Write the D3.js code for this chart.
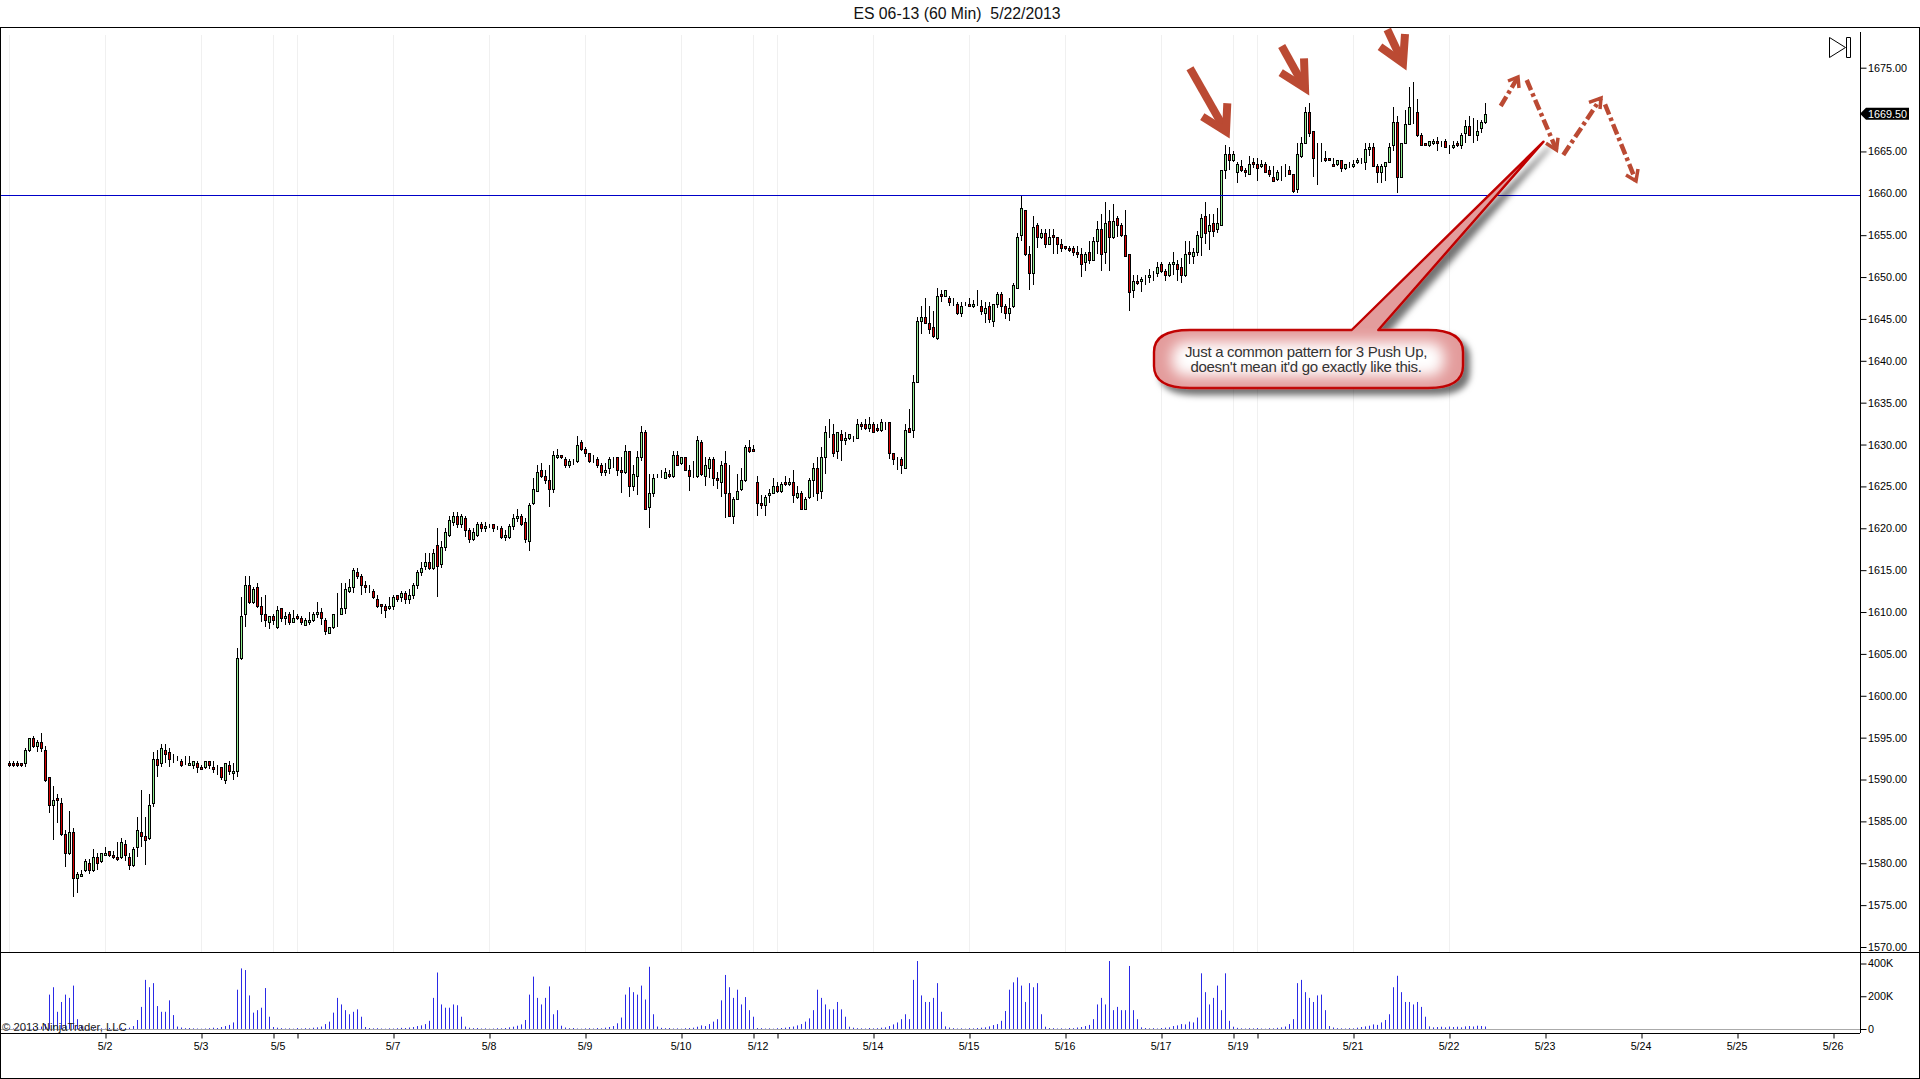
<!DOCTYPE html>
<html>
<head>
<meta charset="utf-8">
<script src="https://d3js.org/d3.v7.min.js"></script>
<style>
  html, body { margin: 0; padding: 0; background: #fff; }
  svg { display: block; }
  text { font-family: "Liberation Sans", Arial, sans-serif; }
</style>
</head>
<body>
<div id="chart"></div>
<script>
// 60 minute bars, one value per bar
const opens = [
  1592,1592,1592,1592,1592,1593.5,1595,1594,1594.5,1593.5,
  1590.25,1587,1587.75,1587.25,1583.5,1581.25,1583.75,1578.25,1578.5,1579.25,
  1580,1579.25,1580.75,1580.25,1581,1581.5,1581,1580.75,1580.75,1582.25,
  1580.75,1579.75,1582,1583.75,1583.25,1583,1587.25,1592.5,1592,1593.5,
  1593.25,1592.5,1592.5,1592.25,1592,1591.75,1591.75,1592,1591.5,1591.5,
  1592.25,1591.5,1591.25,1591.5,1590,1591.75,1590.75,1591,1604.5,1609.75,
  1613.25,1611.25,1613,1610.75,1609.75,1608.75,1609.5,1608.25,1610.5,1609.25,
  1609.75,1608.75,1609.5,1609.25,1608.5,1608.75,1609,1609.75,1610,1609,
  1607.5,1608.25,1609.75,1609.75,1610.5,1612.5,1613,1614.75,1614.25,1613.25,
  1612.75,1612.5,1611.5,1611,1610.75,1610.5,1610.75,1612,1611.75,1612.25,
  1611.5,1612,1613.25,1614.75,1615.5,1616,1615.25,1618,1615.75,1617.75,
  1619.25,1620.75,1621.5,1620.5,1621.25,1619.75,1618.75,1619.25,1620.5,1620,
  1620.25,1620.5,1620,1620,1619,1619,1620.25,1621.25,1621.5,1620.75,
  1618.5,1623,1624.5,1627,1626.25,1625.75,1624.75,1628.5,1628.75,1628.25,
  1627.5,1628,1628,1630.25,1629.5,1629,1628,1628.25,1627.5,1626.75,
  1627.25,1628.25,1628.5,1627,1626.75,1629.25,1625,1626.25,1628.5,1631.5,
  1622.5,1624.25,1626.25,1626,1626,1626.5,1626.25,1628.75,1627.75,1628.5,
  1627,1626.25,1626.25,1630.25,1626.25,1627.25,1628.25,1626,1625.5,1627.75,
  1624.25,1621.5,1623.5,1624.75,1625.75,1629.75,1629.5,1625.5,1623,1622.75,
  1624,1624.25,1625,1624.5,1625.5,1625.25,1625.5,1623.75,1624.25,1622.25,
  1623.75,1625.75,1627.25,1624.5,1628.5,1631.25,1631.25,1629.25,1631.25,1630.5,
  1630.75,1630.75,1630.75,1632.5,1632.5,1632,1632.5,1632,1631.75,1632.75,
  1632.75,1629,1628.25,1628.25,1627.25,1632,1631.75,1637.5,1644.75,1645.25,
  1644.5,1644,1642.75,1648,1647.75,1647.5,1646.75,1646.75,1645.75,1646.75,
  1646.75,1646.5,1646.75,1646.5,1645.75,1646.5,1644.75,1646.75,1648,1646.5,
  1645.75,1646.5,1648.75,1655,1658,1652.75,1650.5,1656.25,1654.75,1655.25,
  1654,1655,1654.75,1654,1653.75,1653.5,1653.5,1653,1652.75,1651.75,
  1653,1652,1654.25,1655.75,1653,1656.75,1654.75,1657,1656.25,1655,
  1652.75,1648.5,1649.5,1649.5,1649.75,1650,1650.25,1650.5,1651.5,1650.75,
  1650.25,1651.5,1651.5,1651.25,1650.25,1653,1652.5,1653,1654.75,1657.25,
  1655.5,1656.5,1655.75,1656.25,1662.75,1664.75,1664,1662.5,1663.25,1662.75,
  1662.25,1663.75,1663.5,1663.25,1663.5,1662.75,1662,1661.75,1662.75,1662.75,
  1662.75,1662.25,1660.5,1664.5,1666,1669.75,1667.5,1664.25,1664.25,1664.25,
  1664.25,1663.5,1663.5,1664,1663,1663.25,1663.25,1663.75,1663.75,1663.75,
  1665.25,1665.5,1663.25,1662.5,1663.25,1663.75,1665.75,1668.5,1662,1666,
  1668.25,1670,1669.75,1667,1666,1665.75,1666,1666.25,1666,1666.25,
  1665.75,1665.5,1666,1665.75,1667.25,1668,1667,1667,1667.75,1668.5
];
const closes = [
  1591.75,1591.75,1591.75,1591.75,1593.5,1595,1594,1594.5,1593.75,1590,
  1587,1587.5,1587.5,1583.5,1581.25,1583.75,1578.25,1578.75,1578.75,1580.25,
  1579.25,1580.75,1580,1581.25,1581.25,1581,1580.75,1580.5,1582.5,1581,
  1579.75,1581.75,1584,1583.25,1582.75,1587,1592.5,1591.75,1593.75,1593,
  1592.5,1592.5,1592.5,1591.75,1592,1592,1592.25,1591.5,1591.25,1592.25,
  1591.75,1591.25,1591.25,1590.25,1592,1591,1591,1604.5,1609.5,1613.25,
  1611.25,1612.75,1610.75,1609.75,1609,1609.5,1609,1610.25,1609.25,1609.5,
  1608.75,1609.25,1609.25,1608.75,1609,1609,1609.75,1610,1609.25,1607.75,
  1608.25,1609.75,1609.75,1610.5,1612.75,1613,1615,1614.25,1613.25,1613,
  1612.75,1611.75,1610.75,1610.75,1610.25,1610.75,1611.75,1611.5,1612.25,1611.5,
  1612,1613.25,1614.75,1615.25,1616,1615.25,1617,1615.5,1617.75,1619.5,
  1621,1621.5,1620.5,1621.5,1619.75,1618.75,1619.5,1620.5,1620,1620.25,
  1620.25,1620,1620,1619,1619.25,1620.25,1621.25,1621.5,1620.5,1618.75,
  1622.75,1624.75,1626.75,1626.25,1625.75,1624.75,1628.75,1628.75,1628.5,1627.5,
  1628,1628,1630,1629.5,1629,1628,1628,1627.5,1626.75,1627,
  1628.25,1628.25,1627,1626.75,1629.25,1625,1626.5,1628.5,1631.5,1622.25,
  1624.25,1626,1626.25,1626,1626.75,1626.25,1628.75,1627.5,1628.5,1627,
  1626.25,1626.25,1630.5,1626.5,1627.5,1628.25,1626,1625.75,1627.5,1624.25,
  1621.5,1623.5,1624.5,1625.75,1629.75,1629.25,1629.25,1623,1622.75,1623.75,
  1624.25,1625,1624.5,1625.25,1625.25,1625.5,1624,1624.25,1622.25,1623.5,
  1625.75,1627.25,1624.25,1628.5,1631.5,1631.25,1629,1631.5,1630.5,1630.75,
  1631.25,1630.75,1632.5,1632.25,1632,1632.5,1631.5,1631.75,1632.75,1632.75,
  1629,1628.25,1628.25,1627.5,1631.75,1631.5,1637.5,1644.75,1645.25,1644.5,
  1643.75,1643,1647.75,1647.75,1648.5,1647,1646.75,1645.75,1646.5,1646.75,
  1646.5,1646.75,1646.75,1646,1646.25,1645,1646.75,1648,1646.5,1645.75,
  1646.25,1649,1654.75,1658.25,1652.75,1650.5,1656,1654.75,1655.25,1654,
  1654.75,1654.75,1654,1653.5,1653.5,1653.25,1653,1652.75,1651.5,1652.75,
  1652,1654.25,1655.75,1652.75,1656.5,1654.75,1656.75,1656.25,1655,1652.5,
  1648.25,1649.5,1649.25,1649.75,1649.75,1650.25,1650.25,1651.25,1650.75,1650.25,
  1651.5,1651.75,1651,1650.25,1652.75,1652.75,1653,1655,1657,1655.25,
  1656.25,1655.5,1656.5,1662.75,1664.75,1664,1664.75,1663.5,1662.75,1662.5,
  1663.5,1663.5,1663,1663.5,1662.5,1662.25,1661.5,1662.5,1662.75,1662.75,
  1662.25,1660.25,1664.75,1666,1669.75,1667.25,1664.25,1664.25,1664.25,1664,
  1664,1663.25,1664,1663,1663.5,1663.25,1663.5,1664,1663.75,1665.25,
  1665.5,1663.25,1662.5,1663.25,1663.75,1665.5,1668.5,1662,1666,1668.25,
  1670.25,1670,1667,1665.75,1665.75,1666.25,1666.25,1666,1666,1665.5,
  1665.75,1665.75,1665.75,1667,1668,1667,1667,1667.5,1668.5,1669.5
];
const highs = [
  1592.25,1592.25,1592.25,1592,1593.75,1595,1595.25,1594.75,1595.5,1594,
  1590.25,1589.25,1588.25,1587.75,1584,1586.25,1584.25,1579,1579.25,1580.5,
  1580.5,1581.75,1581.25,1581.25,1582,1581.5,1581.5,1582.5,1583,1582.75,
  1581.25,1582,1585.5,1588.75,1585.5,1588.25,1593.25,1593.5,1594.25,1594.25,
  1593.75,1593,1592.75,1592.5,1592.75,1592.75,1592.25,1592.25,1591.75,1592.25,
  1592.25,1592.25,1591.75,1591.5,1592,1592.25,1592,1605.75,1611.75,1614.25,
  1614.25,1613,1613.5,1611.75,1612,1609.5,1609.75,1610.75,1610.5,1610,
  1610,1610.25,1609.75,1609.5,1609.25,1610,1610,1611.25,1610.5,1609.25,
  1608.25,1609.75,1612.25,1613.5,1613.5,1614,1615.25,1615.25,1614.5,1613.75,
  1613.25,1612.75,1612,1611,1611,1611.75,1612,1612,1612.5,1612.5,
  1612.75,1613.5,1615,1616,1617,1617,1617.5,1620,1618.5,1620,
  1621.5,1622,1622,1621.75,1621.5,1620,1620,1620.75,1620.75,1620.75,
  1620.5,1620.5,1620.25,1620.25,1619.75,1620.5,1621.75,1622.25,1621.75,1621.25,
  1623,1626,1627.5,1627.75,1627,1627.5,1629.25,1629.5,1628.75,1628.5,
  1628.25,1628.25,1631,1630.5,1629.75,1629,1628.75,1628.5,1627.75,1627.75,
  1628.5,1628.5,1628.5,1628.5,1630,1629.25,1627.5,1629.25,1632.25,1631.75,
  1626.5,1626.5,1626.5,1627,1627.25,1627,1629.25,1629.25,1628.5,1628.5,
  1627.5,1628,1631,1630.5,1628.5,1628.5,1628.5,1626.75,1628,1629.25,
  1627.5,1623.75,1626.5,1627.25,1630,1630.5,1630,1626.25,1624,1624,
  1624.75,1626,1625.5,1625.5,1626.25,1626,1627,1625,1624.5,1623.75,
  1626,1627.75,1628.5,1629.75,1632.25,1633,1632.5,1631.5,1631.75,1631.5,
  1631.25,1631,1633,1632.75,1633,1633.25,1632.75,1632.5,1633,1632.75,
  1632.75,1629,1628.5,1628.5,1632.5,1634.25,1638.25,1645.25,1646.5,1647.5,
  1646.5,1646,1648.75,1648.5,1648.5,1647.75,1647.5,1647,1647,1647,
  1647.5,1647.25,1648.5,1647.25,1647,1647,1646.75,1648.25,1648.25,1646.75,
  1647.5,1649.25,1655.25,1659.75,1658,1653.75,1657.25,1656.5,1655.75,1655.75,
  1655.75,1655.75,1654.75,1654.5,1653.75,1653.75,1653.75,1653.75,1653.5,1653,
  1654.25,1654.75,1656.75,1657.5,1659,1658,1658.75,1657.25,1656.5,1658,
  1652.75,1650.25,1650.25,1650,1650.25,1651,1650.75,1651.75,1651.75,1651,
  1651.75,1653,1652,1652.25,1654.25,1654.25,1653.5,1655.5,1657.5,1659,
  1657.5,1657.5,1658.25,1662.75,1665.75,1665.5,1665,1663.75,1664,1663,
  1664.5,1664.25,1664.25,1664,1663.75,1663.25,1663.25,1662.75,1663.25,1663.5,
  1663.25,1662.25,1666,1666.75,1670.25,1670.75,1667.5,1666,1666,1665,
  1664.25,1664.25,1664,1664,1663.5,1663.75,1664,1664.25,1664.25,1666,
  1666,1666,1663.5,1663.5,1663.75,1666,1670.25,1669.25,1666,1670,
  1672.75,1673.25,1671.25,1667.25,1666,1666.25,1666.5,1666.75,1666.25,1666.5,
  1665.75,1666.25,1666.25,1667.25,1668.75,1669.25,1669,1668.75,1668.75,1670.75
];
const lows = [
  1591.5,1591.5,1591.5,1591.5,1591.5,1593.25,1593.75,1593.25,1593.25,1589.75,
  1586,1582.75,1584.75,1583.25,1579.5,1581,1576,1576.5,1578.5,1579,
  1578.75,1579,1579.25,1580,1581,1580.75,1580.5,1580.25,1580.5,1580.25,
  1579.25,1579.5,1580.75,1582,1579.75,1582.75,1586.75,1590.25,1591.5,1592,
  1591.5,1592,1592.25,1591.5,1591.75,1591.75,1591.25,1590.75,1591.25,1591.25,
  1591.25,1590.75,1590.5,1590,1589.5,1590.5,1590,1590.25,1604.25,1608.25,
  1611,1611,1610.5,1608.75,1608.25,1608,1608.5,1608,1608.75,1608.5,
  1608.5,1608.75,1609,1608.5,1608.5,1608.5,1608.75,1609.25,1608.5,1607.25,
  1607.5,1608,1608.25,1609.75,1609.75,1612.25,1612.25,1614,1612,1612.25,
  1612.25,1611.5,1610.5,1609.75,1609.25,1610.25,1610.25,1611.25,1611.25,1611,
  1611,1611.5,1612.75,1614.25,1615,1615,1615,1611.75,1615.25,1617.25,
  1619,1620.25,1620,1620,1619,1618.25,1618.5,1619,1619.5,1619.5,
  1620,1619.5,1619.75,1618.75,1618.5,1618.75,1619.75,1620.75,1620.25,1618.25,
  1617.25,1622.75,1624.5,1626,1625.25,1622.5,1624.25,1628.25,1628.25,1627.25,
  1627.25,1627.5,1627.75,1629.25,1628.5,1627.75,1627.75,1627.25,1626.25,1626.25,
  1626.5,1627.25,1626.25,1624.25,1626.5,1623.75,1624.5,1624,1628,1622.25,
  1620,1623.75,1626,1626,1626,1626,1626,1627.5,1627.5,1627,
  1624.5,1626,1626,1626.25,1625,1626,1625,1624.75,1623.75,1621.25,
  1621.5,1620.5,1623.5,1624.5,1625.5,1629,1629.25,1621.5,1622.25,1621.5,
  1623,1624.25,1624.25,1624.25,1625,1625,1623,1623.5,1622.25,1622.25,
  1623.5,1623.75,1623.25,1623.5,1626.5,1630.75,1628.5,1628.25,1628,1630,
  1630.5,1630.25,1630.75,1631.75,1631.75,1631.5,1631.5,1631.5,1631.5,1631.75,
  1628.25,1627.5,1627,1626.5,1627.25,1631.5,1630.75,1637.5,1643.25,1644.5,
  1643.25,1642.75,1642.5,1647,1647.75,1646.5,1646.5,1645.5,1645.25,1646.5,
  1646.5,1646.25,1646.5,1645.5,1644.5,1644.5,1644,1646.25,1645.75,1645,
  1644.75,1646.25,1648.75,1654.25,1652.5,1648.5,1649,1653.5,1654.5,1653.5,
  1654,1652.75,1652.75,1653,1653.25,1653,1652.5,1652.25,1650,1650.75,
  1651.5,1652,1652.75,1650.75,1651.5,1650.75,1654.5,1654.75,1654.75,1652.5,
  1646,1647.5,1649,1648.25,1649,1649.25,1649.5,1650,1650.5,1649.5,
  1650,1650.25,1649.5,1649.25,1650,1651.5,1651.5,1652.5,1652.5,1654,
  1653.25,1654.75,1655.25,1656.25,1661.75,1662.75,1663.75,1661.25,1662.5,1662,
  1662.25,1663,1661.5,1663,1662.5,1662,1661.5,1661.5,1661.5,1662,
  1662.25,1660,1660,1664.25,1666,1666.75,1662,1661,1663.75,1663.75,
  1664,1663.25,1663.25,1662.5,1662.75,1663,1663,1663.5,1663.5,1662.75,
  1664.5,1663.25,1661.25,1661.25,1661.5,1663.75,1665,1660,1662,1666,
  1668.25,1668.25,1666.75,1665.75,1665.75,1665.5,1665.75,1665,1665.5,1665.5,
  1664.75,1665.25,1665.5,1665.25,1666,1667,1666,1666.25,1667.25,1668.25
];
// volume in thousands of contracts
const volumes = [
  2,3,2,3,5,8,10,12,15,30,
  210,255,105,165,210,190,265,60,20,8,
  4,5,3,4,2,6,3,4,7,5,
  8,18,55,135,300,255,280,140,105,105,
  175,85,15,9,5,6,4,3,2,3,
  5,8,6,12,18,25,40,240,370,360,
  205,100,115,130,250,75,12,8,5,3,
  4,2,6,3,5,4,8,10,15,30,
  45,100,190,150,115,90,105,120,75,12,
  6,4,5,3,2,4,3,5,7,6,
  9,12,18,22,30,50,190,345,150,130,
  130,150,145,75,15,8,5,6,3,4,
  2,3,5,4,6,10,14,20,28,55,
  210,320,190,150,190,260,90,115,20,9,
  5,6,3,2,4,5,3,6,4,8,
  12,18,35,70,210,255,225,210,265,180,
  380,90,15,7,5,6,3,4,2,5,
  6,8,14,22,18,30,45,60,175,330,
  255,190,240,150,195,115,75,6,5,3,
  4,2,5,6,8,12,15,22,30,45,
  65,115,240,190,150,120,120,165,120,75,
  14,8,5,4,3,6,4,5,8,10,
  18,28,40,60,90,60,300,415,205,165,
  165,190,280,105,16,9,5,3,4,2,
  5,4,6,8,10,16,24,30,50,110,
  240,285,315,265,165,280,255,280,90,14,
  6,5,3,4,2,6,5,9,12,18,
  25,60,150,190,150,415,115,135,115,115,
  385,115,60,10,6,4,5,3,6,8,
  10,18,22,30,28,45,40,70,340,225,
  150,190,265,115,340,50,14,7,4,3,
  5,4,6,3,2,5,4,7,10,15,
  30,60,280,300,225,190,165,205,210,115,
  18,9,5,4,3,5,4,8,12,16,
  20,28,25,40,55,90,255,325,225,165,
  165,150,165,135,75,16,10,12,14,10,
  15,12,14,10,16,18,15,20,18,15
];

const priceTicks = [1570,1575,1580,1585,1590,1595,1600,1605,1610,1615,1620,1625,1630,1635,1640,1645,1650,1655,1660,1665,1675];
const volumeTicks = [0, 200, 400];
const dateBars = [24,48,66,72,96,120,144,168,186,192,216,240,264,288,306,312,336,360,384,408,432,456];
const dateLabels = ["5/2","5/3","5/5","","5/7","5/8","5/9","5/10","5/12","","5/14","5/15","5/16","5/17","5/19","","5/21","5/22","5/23","5/24","5/25","5/26"];
const shiftedLabels = ["5/5", "5/12", "5/19"];
const gridBars = [0,24,48,66,72,96,120,144,168,186,192,216,240,264,288,306,312,336,360];
const supportLevel = 1659.75;
const lastPrice = 1669.5;
const chartTitle = "ES 06-13 (60 Min)  5/22/2013";
const noteLines = ["Just a common pattern for 3 Push Up,", "doesn't mean it'd go exactly like this."];

const width = 1920, height = 1079;
const axisX = 1860, dividerY = 952, bottomY = 1033;
const bars = d3.range(opens.length);

const x = d3.scaleLinear().domain([0, 456]).range([9.5, 1833.5]);
const y = d3.scaleLinear().domain([1570, 1675]).range([947, 67.7]);
const yVol = d3.scaleLinear().domain([0, 400]).range([1029, 963.5]);

const svg = d3.select("#chart").append("svg")
    .attr("width", width)
    .attr("height", height);

const crisp = v => Math.round(v) + 0.5;

// defs for the callout
const defs = svg.append("defs");
const shadow = defs.append("filter").attr("id", "noteShadow")
    .attr("x", "-10%").attr("y", "-10%").attr("width", "125%").attr("height", "130%");
shadow.append("feDropShadow")
    .attr("dx", 6).attr("dy", 6).attr("stdDeviation", 3)
    .attr("flood-color", "#000").attr("flood-opacity", 0.55);
defs.append("filter").attr("id", "noteGlow")
    .attr("x", "-20%").attr("y", "-40%").attr("width", "140%").attr("height", "180%")
  .append("feGaussianBlur").attr("stdDeviation", 7);

// vertical date grid
svg.append("g").selectAll("line")
    .data(gridBars)
    .join("line")
    .attr("x1", d => x(d)).attr("x2", d => x(d))
    .attr("y1", 35).attr("y2", dividerY)
    .attr("stroke", "#f0f0f0");

// volume zero line
svg.append("line")
    .attr("x1", 0).attr("x2", axisX)
    .attr("y1", crisp(yVol(0))).attr("y2", crisp(yVol(0)))
    .attr("stroke", "#aaa");

// volume bars
svg.append("g").selectAll("line")
    .data(bars)
    .join("line")
    .attr("x1", i => x(i)).attr("x2", i => x(i))
    .attr("y1", yVol(0))
    .attr("y2", i => yVol(volumes[i]))
    .attr("stroke", "#2a2ae6")
    .attr("stroke-width", 1);

// candles: wick first, body on top
const candle = svg.append("g").selectAll("g")
    .data(bars)
    .join("g");
candle.append("line")
    .attr("x1", i => x(i)).attr("x2", i => x(i))
    .attr("y1", i => Math.round(y(highs[i])))
    .attr("y2", i => Math.round(y(lows[i])))
    .attr("stroke", "#000");
candle.append("rect")
    .attr("x", i => x(i) - 1)
    .attr("width", 2)
    .attr("y", i => crisp(y(Math.max(opens[i], closes[i]))))
    .attr("height", i => Math.max(0, crisp(y(Math.min(opens[i], closes[i]))) - crisp(y(Math.max(opens[i], closes[i])))))
    .attr("fill", i => closes[i] >= opens[i] ? "#90ee90" : "#d40000")
    .attr("stroke", "#000");

// horizontal level
svg.append("line")
    .attr("x1", 0).attr("x2", axisX)
    .attr("y1", crisp(y(supportLevel))).attr("y2", crisp(y(supportLevel)))
    .attr("stroke", "#0000c8");

// title
svg.append("text")
    .attr("x", 957).attr("y", 18.5)
    .attr("text-anchor", "middle")
    .style("white-space", "pre")
    .style("font-size", "15.8px")
    .attr("fill", "#111")
    .text(chartTitle);

// copyright
svg.append("text")
    .attr("x", 2).attr("y", 1031)
    .style("font-size", "11.3px")
    .attr("fill", "#222")
    .text("© 2013 NinjaTrader, LLC");

// frame and panel lines
svg.append("rect")
    .attr("x", 0.5).attr("y", 27.5)
    .attr("width", width - 1).attr("height", height - 28)
    .attr("fill", "none").attr("stroke", "#000");

// price axis
const priceAxis = svg.append("g")
    .attr("transform", `translate(${axisX + 0.5},0)`)
    .call(d3.axisRight(y).tickValues(priceTicks).tickFormat(d3.format(".2f")).tickSize(6).tickPadding(1.5));
priceAxis.select(".domain").remove();
priceAxis.selectAll(".tick").filter(d => d === 1660).select("line").remove();
priceAxis.selectAll("text").style("font-size", "10.8px").style("font-family", "Liberation Sans");

// volume axis
const volumeAxis = svg.append("g")
    .attr("transform", `translate(${axisX + 0.5},0)`)
    .call(d3.axisRight(yVol).tickValues(volumeTicks).tickFormat(d => d === 0 ? "0" : d + "K").tickSize(6).tickPadding(1.5));
volumeAxis.select(".domain").remove();
volumeAxis.selectAll("text").style("font-size", "10.8px").style("font-family", "Liberation Sans");

// axis lines
svg.append("line").attr("x1", axisX + 0.5).attr("x2", axisX + 0.5).attr("y1", 32).attr("y2", bottomY).attr("stroke", "#000");
svg.append("line").attr("x1", 0).attr("x2", width).attr("y1", dividerY + 0.5).attr("y2", dividerY + 0.5).attr("stroke", "#000");
svg.append("line").attr("x1", 0).attr("x2", axisX).attr("y1", bottomY + 0.5).attr("y2", bottomY + 0.5).attr("stroke", "#000");

// date axis
const dateAxis = svg.append("g")
    .attr("transform", `translate(0,${bottomY + 0.5})`)
    .call(d3.axisBottom(x).tickValues(dateBars).tickFormat((d, i) => dateLabels[i]).tickSize(5).tickPadding(4));
dateAxis.select(".domain").remove();
dateAxis.selectAll("text")
    .style("font-size", "10.6px")
    .style("font-family", "Liberation Sans")
    .attr("dx", function () { return shiftedLabels.includes(d3.select(this).text()) ? 4 : -1; });

// last price marker
const markY = y(lastPrice);
svg.append("path")
    .attr("d", `M${axisX} ${markY} L${axisX + 6} ${markY - 6} H1909 V${markY + 6} H${axisX + 6} Z`)
    .attr("fill", "#000");
svg.append("text")
    .attr("x", 1868).attr("y", markY + 3.8)
    .style("font-size", "10.8px")
    .attr("fill", "#fff")
    .text(d3.format(".2f")(lastPrice));

// jump to end button
svg.append("path")
    .attr("d", "M1829.5 37.5 L1845.5 47.5 L1829.5 57.5 Z M1846.5 37.5 H1850.5 V57.5 H1846.5 Z")
    .attr("fill", "none").attr("stroke", "#000");

// callout
const noteOutline = "M1351.7,330 L1543.5,141.7 L1378.3,330 L1428,330 Q1463,330 1463,352 L1463,366 Q1463,388 1428,388 " +
    "L1190,388 Q1154,388 1154,366 L1154,352 Q1154,330 1190,330 Z";
svg.append("path")
    .attr("d", noteOutline)
    .attr("fill", "#e39c9c")
    .attr("stroke", "#c00000")
    .attr("stroke-width", 2.4)
    .attr("stroke-linejoin", "round")
    .attr("filter", "url(#noteShadow)");
svg.append("rect")
    .attr("x", 1172).attr("y", 342)
    .attr("width", 272).attr("height", 34)
    .attr("rx", 14)
    .attr("fill", "#fff")
    .attr("filter", "url(#noteGlow)");
svg.append("g").selectAll("text")
    .data(noteLines)
    .join("text")
    .attr("x", 1306)
    .attr("y", (d, i) => 356.5 + i * 15.5)
    .attr("text-anchor", "middle")
    .style("font-size", "15px")
    .style("letter-spacing", "-0.29px")
    .attr("fill", "#333")
    .text(d => d);

// hand drawn arrows, [tail, tip, wing, wing]
const solidArrows = [
  [[1190, 68.3], [1226, 131.5], [1202.3, 116.7], [1227.3, 103.3]],
  [[1281.7, 46], [1305, 88], [1280.7, 72.7], [1304, 58.3]],
  [[1387.3, 29.5], [1403, 63], [1380, 46.7], [1405, 34]]
];
const dashedArrows = [
  [[1500.7, 106], [1518, 77], [1508, 81], [1519, 88]],
  [[1526.7, 80], [1556.5, 150], [1546, 143.3], [1558, 137.7]],
  [[1563.3, 155], [1601, 98], [1589, 102.3], [1600, 109]],
  [[1605, 104.3], [1636, 181], [1626, 175], [1638, 169]]
];
const arrowColor = "#bb4a33";
const arrows = svg.append("g").attr("fill", "none").attr("stroke", arrowColor);
solidArrows.forEach(a => {
  arrows.append("path")
      .attr("d", d3.line()([a[0], a[1]]))
      .attr("stroke-width", 8);
  arrows.append("path")
      .attr("d", d3.line()([a[2], a[1], a[3]]))
      .attr("stroke-width", 8)
      .attr("stroke-miterlimit", 10);
});
dashedArrows.forEach(a => {
  arrows.append("path")
      .attr("d", d3.line()([a[0], a[1]]))
      .attr("stroke-width", 4.5)
      .attr("stroke-dasharray", "11 3.5 3.5 3.5");
  arrows.append("path")
      .attr("d", d3.line()([a[2], a[1], a[3]]))
      .attr("stroke-width", 3.5)
      .attr("stroke-miterlimit", 10);
});
</script>
</body>
</html>
